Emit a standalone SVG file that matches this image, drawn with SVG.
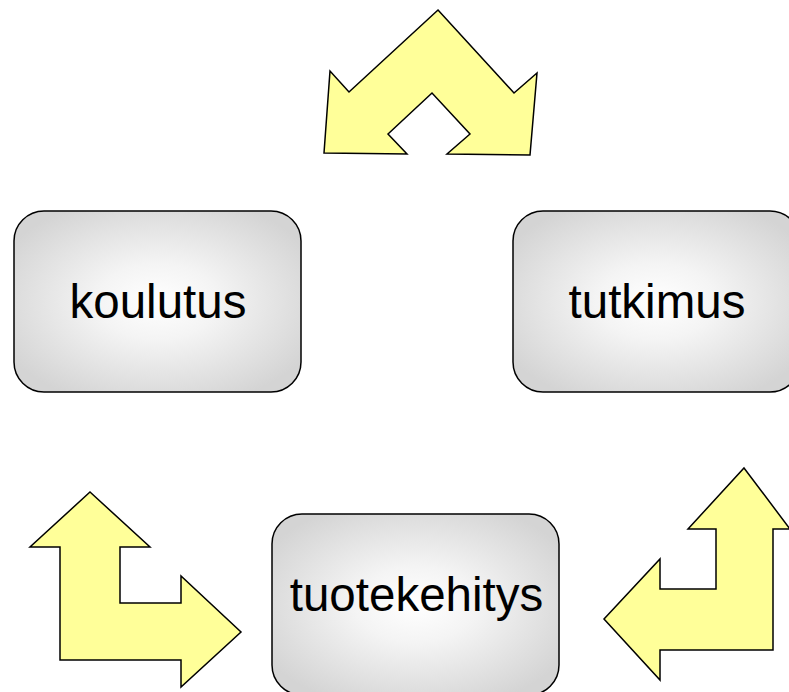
<svg xmlns="http://www.w3.org/2000/svg" width="789" height="692" viewBox="0 0 789 692">
<style>
.arrow{fill:#ffff99;stroke:#000;stroke-width:1.5;stroke-linejoin:miter}
.box{fill:url(#g);stroke:#000;stroke-width:1.5}
.lbl{font-family:"Liberation Sans",Arial,sans-serif;font-size:47.5px;fill:#000;text-anchor:middle}
</style>
<defs>
<radialGradient id="g" cx="50%" cy="50%" r="60%">
<stop offset="0" stop-color="#ffffff"/>
<stop offset="0.35" stop-color="#f4f4f4"/>
<stop offset="1" stop-color="#d4d4d4"/>
</radialGradient>
</defs>
<rect width="789" height="692" fill="#fff"/>
<g id="connectors">
<polygon id="arrow-top" class="arrow" points="438,10 514,93 537,73 530,155 447,154 470,134 432,93 388,134 407,154 324,153 330,71 349,92"/>
<polygon id="arrow-left" class="arrow" points="90,492 150,547 120,547 120,603 181,603 181,576 241,632 181,687 181,660 60,660 60,547 30,547"/>
<polygon id="arrow-right" class="arrow" points="744,468 790,529 773,529 773,650 660,650 660,680 604,619 660,559 660,589 716,589 716,529 688,529"/>
</g>
<g id="node-koulutus">
<rect class="box" x="14" y="211" width="287" height="181" rx="30" ry="30"/>
<text class="lbl" x="158" y="318">koulutus</text>
</g>
<g id="node-tutkimus">
<rect class="box" x="513" y="211" width="287" height="181" rx="30" ry="30"/>
<text class="lbl" x="657" y="318">tutkimus</text>
</g>
<g id="node-tuotekehitys">
<rect class="box" x="272" y="514" width="287" height="181" rx="30" ry="30"/>
<text class="lbl" x="416.5" y="611">tuotekehitys</text>
</g>
</svg>
